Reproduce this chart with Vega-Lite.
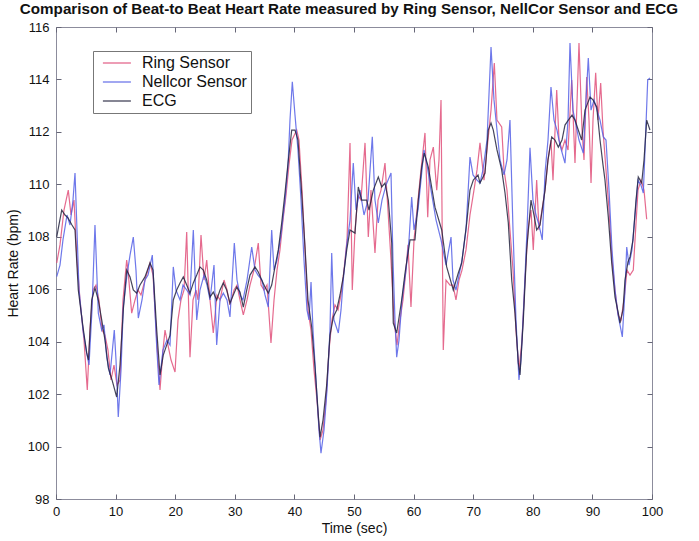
{
  "$schema": "https://vega.github.io/schema/vega-lite/v6.json",
  "width": 596,
  "height": 472,
  "autosize": "none",
  "padding": {"left": 56, "top": 27, "right": 47, "bottom": 42},
  "background": "white",
  "config": {
    "font": "Liberation Sans",
    "view": {"stroke": "#8c8c9c", "strokeWidth": 1},
    "axis": {"grid": false, "domain": false, "tickColor": "#666677", "labelColor": "#111111", "titleColor": "#111111", "labelFontSize": 13, "titleFontSize": 14, "titleFontWeight": "normal", "tickSize": -5, "labelFlush": false, "labelOverlap": false}
  },
  "title": {"text": "Comparison of Beat-to Beat Heart Rate measured by Ring Sensor, NellCor Sensor and ECG", "fontSize": 15.2, "fontWeight": "bold", "color": "#111111", "anchor": "middle", "frame": "group", "offset": 4, "dx": -5},
  "data": {"values": [
    {"series": "Ring Sensor", "t": 0.12, "bpm": 107.00},
    {"series": "Ring Sensor", "t": 0.67, "bpm": 107.69},
    {"series": "Ring Sensor", "t": 1.34, "bpm": 109.02},
    {"series": "Ring Sensor", "t": 2.06, "bpm": 109.78},
    {"series": "Ring Sensor", "t": 2.52, "bpm": 108.83},
    {"series": "Ring Sensor", "t": 3.02, "bpm": 109.40},
    {"series": "Ring Sensor", "t": 3.52, "bpm": 107.11},
    {"series": "Ring Sensor", "t": 4.03, "bpm": 105.59},
    {"series": "Ring Sensor", "t": 4.70, "bpm": 104.06},
    {"series": "Ring Sensor", "t": 5.25, "bpm": 102.16},
    {"series": "Ring Sensor", "t": 5.70, "bpm": 104.44},
    {"series": "Ring Sensor", "t": 6.21, "bpm": 105.97},
    {"series": "Ring Sensor", "t": 6.71, "bpm": 106.16},
    {"series": "Ring Sensor", "t": 7.21, "bpm": 105.59},
    {"series": "Ring Sensor", "t": 7.72, "bpm": 104.44},
    {"series": "Ring Sensor", "t": 8.22, "bpm": 104.25},
    {"series": "Ring Sensor", "t": 8.72, "bpm": 103.68},
    {"series": "Ring Sensor", "t": 9.23, "bpm": 102.54},
    {"series": "Ring Sensor", "t": 9.73, "bpm": 103.11},
    {"series": "Ring Sensor", "t": 10.23, "bpm": 102.35},
    {"series": "Ring Sensor", "t": 10.74, "bpm": 102.54},
    {"series": "Ring Sensor", "t": 11.24, "bpm": 105.59},
    {"series": "Ring Sensor", "t": 11.86, "bpm": 107.11},
    {"series": "Ring Sensor", "t": 12.08, "bpm": 106.73},
    {"series": "Ring Sensor", "t": 12.70, "bpm": 105.09},
    {"series": "Ring Sensor", "t": 13.26, "bpm": 105.59},
    {"series": "Ring Sensor", "t": 13.76, "bpm": 105.97},
    {"series": "Ring Sensor", "t": 14.26, "bpm": 105.78},
    {"series": "Ring Sensor", "t": 14.93, "bpm": 106.35},
    {"series": "Ring Sensor", "t": 15.77, "bpm": 107.00},
    {"series": "Ring Sensor", "t": 16.28, "bpm": 106.54},
    {"series": "Ring Sensor", "t": 16.90, "bpm": 104.06},
    {"series": "Ring Sensor", "t": 17.45, "bpm": 102.16},
    {"series": "Ring Sensor", "t": 17.95, "bpm": 103.68},
    {"series": "Ring Sensor", "t": 18.29, "bpm": 104.44},
    {"series": "Ring Sensor", "t": 18.79, "bpm": 103.87},
    {"series": "Ring Sensor", "t": 19.30, "bpm": 103.30},
    {"series": "Ring Sensor", "t": 19.97, "bpm": 102.84},
    {"series": "Ring Sensor", "t": 20.47, "bpm": 104.83},
    {"series": "Ring Sensor", "t": 20.97, "bpm": 105.59},
    {"series": "Ring Sensor", "t": 21.48, "bpm": 105.97},
    {"series": "Ring Sensor", "t": 21.93, "bpm": 108.18},
    {"series": "Ring Sensor", "t": 22.48, "bpm": 103.41},
    {"series": "Ring Sensor", "t": 22.99, "bpm": 105.59},
    {"series": "Ring Sensor", "t": 23.49, "bpm": 105.97},
    {"series": "Ring Sensor", "t": 23.83, "bpm": 105.59},
    {"series": "Ring Sensor", "t": 24.33, "bpm": 108.07},
    {"series": "Ring Sensor", "t": 24.83, "bpm": 106.35},
    {"series": "Ring Sensor", "t": 25.29, "bpm": 107.11},
    {"series": "Ring Sensor", "t": 25.84, "bpm": 105.59},
    {"series": "Ring Sensor", "t": 26.39, "bpm": 104.33},
    {"series": "Ring Sensor", "t": 27.01, "bpm": 105.78},
    {"series": "Ring Sensor", "t": 27.52, "bpm": 105.59},
    {"series": "Ring Sensor", "t": 28.19, "bpm": 106.35},
    {"series": "Ring Sensor", "t": 28.69, "bpm": 105.97},
    {"series": "Ring Sensor", "t": 29.19, "bpm": 105.40},
    {"series": "Ring Sensor", "t": 29.87, "bpm": 105.97},
    {"series": "Ring Sensor", "t": 30.37, "bpm": 106.16},
    {"series": "Ring Sensor", "t": 30.87, "bpm": 105.59},
    {"series": "Ring Sensor", "t": 31.43, "bpm": 105.02},
    {"series": "Ring Sensor", "t": 32.05, "bpm": 105.59},
    {"series": "Ring Sensor", "t": 32.55, "bpm": 106.16},
    {"series": "Ring Sensor", "t": 33.22, "bpm": 106.73},
    {"series": "Ring Sensor", "t": 33.94, "bpm": 107.76},
    {"series": "Ring Sensor", "t": 34.40, "bpm": 106.16},
    {"series": "Ring Sensor", "t": 34.90, "bpm": 105.97},
    {"series": "Ring Sensor", "t": 35.40, "bpm": 106.16},
    {"series": "Ring Sensor", "t": 36.07, "bpm": 103.95},
    {"series": "Ring Sensor", "t": 36.58, "bpm": 105.59},
    {"series": "Ring Sensor", "t": 37.08, "bpm": 106.73},
    {"series": "Ring Sensor", "t": 37.58, "bpm": 107.50},
    {"series": "Ring Sensor", "t": 38.09, "bpm": 108.64},
    {"series": "Ring Sensor", "t": 38.59, "bpm": 109.59},
    {"series": "Ring Sensor", "t": 39.09, "bpm": 110.74},
    {"series": "Ring Sensor", "t": 39.60, "bpm": 111.69},
    {"series": "Ring Sensor", "t": 40.39, "bpm": 112.07},
    {"series": "Ring Sensor", "t": 40.77, "bpm": 111.69},
    {"series": "Ring Sensor", "t": 41.28, "bpm": 109.78},
    {"series": "Ring Sensor", "t": 41.78, "bpm": 107.50},
    {"series": "Ring Sensor", "t": 42.28, "bpm": 105.21},
    {"series": "Ring Sensor", "t": 42.79, "bpm": 104.44},
    {"series": "Ring Sensor", "t": 43.29, "bpm": 102.92},
    {"series": "Ring Sensor", "t": 43.79, "bpm": 101.77},
    {"series": "Ring Sensor", "t": 44.30, "bpm": 100.25},
    {"series": "Ring Sensor", "t": 44.80, "bpm": 100.63},
    {"series": "Ring Sensor", "t": 45.30, "bpm": 101.77},
    {"series": "Ring Sensor", "t": 45.81, "bpm": 103.68},
    {"series": "Ring Sensor", "t": 46.31, "bpm": 104.83},
    {"series": "Ring Sensor", "t": 46.81, "bpm": 105.40},
    {"series": "Ring Sensor", "t": 47.32, "bpm": 105.21},
    {"series": "Ring Sensor", "t": 47.82, "bpm": 105.78},
    {"series": "Ring Sensor", "t": 48.32, "bpm": 106.73},
    {"series": "Ring Sensor", "t": 48.83, "bpm": 107.88},
    {"series": "Ring Sensor", "t": 49.33, "bpm": 111.58},
    {"series": "Ring Sensor", "t": 49.71, "bpm": 105.97},
    {"series": "Ring Sensor", "t": 50.17, "bpm": 108.26},
    {"series": "Ring Sensor", "t": 50.67, "bpm": 109.59},
    {"series": "Ring Sensor", "t": 51.17, "bpm": 109.40},
    {"series": "Ring Sensor", "t": 51.85, "bpm": 111.58},
    {"series": "Ring Sensor", "t": 52.40, "bpm": 107.99},
    {"series": "Ring Sensor", "t": 52.85, "bpm": 109.78},
    {"series": "Ring Sensor", "t": 53.52, "bpm": 107.38},
    {"series": "Ring Sensor", "t": 54.03, "bpm": 109.40},
    {"series": "Ring Sensor", "t": 54.53, "bpm": 109.78},
    {"series": "Ring Sensor", "t": 55.20, "bpm": 110.81},
    {"series": "Ring Sensor", "t": 55.70, "bpm": 109.02},
    {"series": "Ring Sensor", "t": 56.21, "bpm": 107.11},
    {"series": "Ring Sensor", "t": 56.71, "bpm": 104.83},
    {"series": "Ring Sensor", "t": 57.21, "bpm": 103.87},
    {"series": "Ring Sensor", "t": 57.72, "bpm": 104.83},
    {"series": "Ring Sensor", "t": 58.22, "bpm": 105.59},
    {"series": "Ring Sensor", "t": 58.72, "bpm": 106.73},
    {"series": "Ring Sensor", "t": 59.06, "bpm": 107.69},
    {"series": "Ring Sensor", "t": 59.56, "bpm": 105.32},
    {"series": "Ring Sensor", "t": 60.07, "bpm": 107.88},
    {"series": "Ring Sensor", "t": 60.74, "bpm": 109.40},
    {"series": "Ring Sensor", "t": 61.24, "bpm": 110.55},
    {"series": "Ring Sensor", "t": 61.91, "bpm": 111.96},
    {"series": "Ring Sensor", "t": 62.37, "bpm": 108.75},
    {"series": "Ring Sensor", "t": 62.75, "bpm": 110.93},
    {"series": "Ring Sensor", "t": 63.31, "bpm": 111.42},
    {"series": "Ring Sensor", "t": 63.88, "bpm": 109.78},
    {"series": "Ring Sensor", "t": 64.26, "bpm": 110.93},
    {"series": "Ring Sensor", "t": 64.60, "bpm": 113.22},
    {"series": "Ring Sensor", "t": 64.98, "bpm": 103.68},
    {"series": "Ring Sensor", "t": 65.44, "bpm": 106.35},
    {"series": "Ring Sensor", "t": 66.11, "bpm": 106.16},
    {"series": "Ring Sensor", "t": 66.61, "bpm": 106.16},
    {"series": "Ring Sensor", "t": 67.11, "bpm": 105.59},
    {"series": "Ring Sensor", "t": 67.62, "bpm": 106.35},
    {"series": "Ring Sensor", "t": 68.12, "bpm": 106.73},
    {"series": "Ring Sensor", "t": 68.79, "bpm": 107.50},
    {"series": "Ring Sensor", "t": 69.46, "bpm": 108.83},
    {"series": "Ring Sensor", "t": 70.13, "bpm": 109.78},
    {"series": "Ring Sensor", "t": 70.64, "bpm": 110.55},
    {"series": "Ring Sensor", "t": 71.14, "bpm": 111.58},
    {"series": "Ring Sensor", "t": 71.81, "bpm": 110.16},
    {"series": "Ring Sensor", "t": 72.48, "bpm": 111.69},
    {"series": "Ring Sensor", "t": 72.99, "bpm": 112.83},
    {"series": "Ring Sensor", "t": 73.54, "bpm": 114.63},
    {"series": "Ring Sensor", "t": 73.99, "bpm": 112.45},
    {"series": "Ring Sensor", "t": 74.78, "bpm": 112.19},
    {"series": "Ring Sensor", "t": 75.17, "bpm": 110.55},
    {"series": "Ring Sensor", "t": 75.67, "bpm": 109.78},
    {"series": "Ring Sensor", "t": 76.17, "bpm": 108.26},
    {"series": "Ring Sensor", "t": 76.68, "bpm": 106.73},
    {"series": "Ring Sensor", "t": 77.18, "bpm": 104.44},
    {"series": "Ring Sensor", "t": 77.68, "bpm": 102.92},
    {"series": "Ring Sensor", "t": 78.19, "bpm": 104.06},
    {"series": "Ring Sensor", "t": 78.69, "bpm": 106.35},
    {"series": "Ring Sensor", "t": 79.19, "bpm": 108.26},
    {"series": "Ring Sensor", "t": 79.70, "bpm": 109.02},
    {"series": "Ring Sensor", "t": 80.08, "bpm": 107.50},
    {"series": "Ring Sensor", "t": 80.65, "bpm": 110.16},
    {"series": "Ring Sensor", "t": 81.04, "bpm": 108.26},
    {"series": "Ring Sensor", "t": 81.54, "bpm": 109.02},
    {"series": "Ring Sensor", "t": 82.05, "bpm": 109.78},
    {"series": "Ring Sensor", "t": 82.55, "bpm": 110.93},
    {"series": "Ring Sensor", "t": 83.05, "bpm": 111.69},
    {"series": "Ring Sensor", "t": 83.39, "bpm": 110.16},
    {"series": "Ring Sensor", "t": 84.01, "bpm": 113.60},
    {"series": "Ring Sensor", "t": 84.40, "bpm": 111.69},
    {"series": "Ring Sensor", "t": 84.90, "bpm": 111.31},
    {"series": "Ring Sensor", "t": 85.40, "bpm": 111.69},
    {"series": "Ring Sensor", "t": 85.91, "bpm": 111.31},
    {"series": "Ring Sensor", "t": 86.53, "bpm": 113.98},
    {"series": "Ring Sensor", "t": 87.08, "bpm": 110.81},
    {"series": "Ring Sensor", "t": 87.75, "bpm": 115.39},
    {"series": "Ring Sensor", "t": 88.26, "bpm": 112.07},
    {"series": "Ring Sensor", "t": 88.59, "bpm": 110.93},
    {"series": "Ring Sensor", "t": 89.04, "bpm": 114.09},
    {"series": "Ring Sensor", "t": 89.43, "bpm": 112.45},
    {"series": "Ring Sensor", "t": 89.77, "bpm": 110.05},
    {"series": "Ring Sensor", "t": 90.10, "bpm": 112.45},
    {"series": "Ring Sensor", "t": 90.55, "bpm": 114.25},
    {"series": "Ring Sensor", "t": 90.94, "bpm": 112.45},
    {"series": "Ring Sensor", "t": 91.39, "bpm": 113.86},
    {"series": "Ring Sensor", "t": 91.78, "bpm": 112.07},
    {"series": "Ring Sensor", "t": 92.28, "bpm": 110.55},
    {"series": "Ring Sensor", "t": 92.79, "bpm": 109.02},
    {"series": "Ring Sensor", "t": 93.29, "bpm": 107.11},
    {"series": "Ring Sensor", "t": 93.79, "bpm": 105.97},
    {"series": "Ring Sensor", "t": 94.30, "bpm": 105.02},
    {"series": "Ring Sensor", "t": 94.80, "bpm": 104.83},
    {"series": "Ring Sensor", "t": 95.30, "bpm": 105.59},
    {"series": "Ring Sensor", "t": 95.81, "bpm": 106.73},
    {"series": "Ring Sensor", "t": 96.31, "bpm": 106.54},
    {"series": "Ring Sensor", "t": 96.86, "bpm": 106.73},
    {"series": "Ring Sensor", "t": 97.15, "bpm": 107.88},
    {"series": "Ring Sensor", "t": 97.65, "bpm": 109.78},
    {"series": "Ring Sensor", "t": 98.15, "bpm": 110.16},
    {"series": "Ring Sensor", "t": 98.66, "bpm": 109.78},
    {"series": "Ring Sensor", "t": 99.11, "bpm": 108.67},
    {"series": "Nellcor Sensor", "t": 0.12, "bpm": 106.48},
    {"series": "Nellcor Sensor", "t": 0.67, "bpm": 106.92},
    {"series": "Nellcor Sensor", "t": 1.17, "bpm": 107.88},
    {"series": "Nellcor Sensor", "t": 1.85, "bpm": 108.83},
    {"series": "Nellcor Sensor", "t": 2.35, "bpm": 108.45},
    {"series": "Nellcor Sensor", "t": 2.85, "bpm": 109.40},
    {"series": "Nellcor Sensor", "t": 3.19, "bpm": 110.43},
    {"series": "Nellcor Sensor", "t": 3.52, "bpm": 108.26},
    {"series": "Nellcor Sensor", "t": 3.86, "bpm": 105.97},
    {"series": "Nellcor Sensor", "t": 4.53, "bpm": 104.44},
    {"series": "Nellcor Sensor", "t": 5.15, "bpm": 103.57},
    {"series": "Nellcor Sensor", "t": 5.54, "bpm": 103.11},
    {"series": "Nellcor Sensor", "t": 6.04, "bpm": 105.21},
    {"series": "Nellcor Sensor", "t": 6.54, "bpm": 108.45},
    {"series": "Nellcor Sensor", "t": 7.10, "bpm": 105.09},
    {"series": "Nellcor Sensor", "t": 7.67, "bpm": 104.44},
    {"series": "Nellcor Sensor", "t": 8.05, "bpm": 104.64},
    {"series": "Nellcor Sensor", "t": 8.51, "bpm": 103.41},
    {"series": "Nellcor Sensor", "t": 9.06, "bpm": 102.73},
    {"series": "Nellcor Sensor", "t": 9.78, "bpm": 104.44},
    {"series": "Nellcor Sensor", "t": 10.07, "bpm": 103.30},
    {"series": "Nellcor Sensor", "t": 10.45, "bpm": 101.13},
    {"series": "Nellcor Sensor", "t": 10.91, "bpm": 102.92},
    {"series": "Nellcor Sensor", "t": 11.29, "bpm": 105.32},
    {"series": "Nellcor Sensor", "t": 11.91, "bpm": 106.54},
    {"series": "Nellcor Sensor", "t": 12.42, "bpm": 107.30},
    {"series": "Nellcor Sensor", "t": 12.97, "bpm": 107.99},
    {"series": "Nellcor Sensor", "t": 13.42, "bpm": 106.73},
    {"series": "Nellcor Sensor", "t": 13.81, "bpm": 104.90},
    {"series": "Nellcor Sensor", "t": 14.43, "bpm": 105.59},
    {"series": "Nellcor Sensor", "t": 14.93, "bpm": 106.35},
    {"series": "Nellcor Sensor", "t": 15.44, "bpm": 106.54},
    {"series": "Nellcor Sensor", "t": 16.16, "bpm": 107.30},
    {"series": "Nellcor Sensor", "t": 16.90, "bpm": 103.80},
    {"series": "Nellcor Sensor", "t": 17.28, "bpm": 102.35},
    {"series": "Nellcor Sensor", "t": 17.95, "bpm": 103.68},
    {"series": "Nellcor Sensor", "t": 18.62, "bpm": 104.06},
    {"series": "Nellcor Sensor", "t": 19.13, "bpm": 103.87},
    {"series": "Nellcor Sensor", "t": 19.68, "bpm": 106.85},
    {"series": "Nellcor Sensor", "t": 20.13, "bpm": 105.97},
    {"series": "Nellcor Sensor", "t": 20.81, "bpm": 105.59},
    {"series": "Nellcor Sensor", "t": 21.31, "bpm": 106.16},
    {"series": "Nellcor Sensor", "t": 21.93, "bpm": 105.97},
    {"series": "Nellcor Sensor", "t": 22.48, "bpm": 105.78},
    {"series": "Nellcor Sensor", "t": 23.04, "bpm": 108.26},
    {"series": "Nellcor Sensor", "t": 23.61, "bpm": 104.83},
    {"series": "Nellcor Sensor", "t": 24.16, "bpm": 105.97},
    {"series": "Nellcor Sensor", "t": 24.83, "bpm": 106.54},
    {"series": "Nellcor Sensor", "t": 25.34, "bpm": 106.16},
    {"series": "Nellcor Sensor", "t": 25.84, "bpm": 105.59},
    {"series": "Nellcor Sensor", "t": 26.51, "bpm": 106.92},
    {"series": "Nellcor Sensor", "t": 26.96, "bpm": 103.87},
    {"series": "Nellcor Sensor", "t": 27.52, "bpm": 105.59},
    {"series": "Nellcor Sensor", "t": 28.07, "bpm": 105.85},
    {"series": "Nellcor Sensor", "t": 28.69, "bpm": 105.59},
    {"series": "Nellcor Sensor", "t": 29.19, "bpm": 104.94},
    {"series": "Nellcor Sensor", "t": 29.92, "bpm": 107.76},
    {"series": "Nellcor Sensor", "t": 30.37, "bpm": 106.35},
    {"series": "Nellcor Sensor", "t": 30.87, "bpm": 105.78},
    {"series": "Nellcor Sensor", "t": 31.38, "bpm": 105.59},
    {"series": "Nellcor Sensor", "t": 32.05, "bpm": 106.35},
    {"series": "Nellcor Sensor", "t": 32.84, "bpm": 107.61},
    {"series": "Nellcor Sensor", "t": 33.39, "bpm": 106.73},
    {"series": "Nellcor Sensor", "t": 33.89, "bpm": 106.54},
    {"series": "Nellcor Sensor", "t": 34.56, "bpm": 106.35},
    {"series": "Nellcor Sensor", "t": 35.07, "bpm": 105.78},
    {"series": "Nellcor Sensor", "t": 35.62, "bpm": 105.32},
    {"series": "Nellcor Sensor", "t": 36.19, "bpm": 108.26},
    {"series": "Nellcor Sensor", "t": 36.58, "bpm": 106.73},
    {"series": "Nellcor Sensor", "t": 37.08, "bpm": 107.11},
    {"series": "Nellcor Sensor", "t": 37.75, "bpm": 108.07},
    {"series": "Nellcor Sensor", "t": 38.42, "bpm": 109.40},
    {"series": "Nellcor Sensor", "t": 38.93, "bpm": 110.74},
    {"series": "Nellcor Sensor", "t": 39.26, "bpm": 112.45},
    {"series": "Nellcor Sensor", "t": 39.65, "bpm": 113.91},
    {"series": "Nellcor Sensor", "t": 40.10, "bpm": 112.64},
    {"series": "Nellcor Sensor", "t": 40.60, "bpm": 111.31},
    {"series": "Nellcor Sensor", "t": 41.11, "bpm": 109.40},
    {"series": "Nellcor Sensor", "t": 41.61, "bpm": 107.11},
    {"series": "Nellcor Sensor", "t": 42.11, "bpm": 105.21},
    {"series": "Nellcor Sensor", "t": 42.45, "bpm": 104.83},
    {"series": "Nellcor Sensor", "t": 42.79, "bpm": 106.27},
    {"series": "Nellcor Sensor", "t": 43.12, "bpm": 104.44},
    {"series": "Nellcor Sensor", "t": 43.62, "bpm": 102.54},
    {"series": "Nellcor Sensor", "t": 44.13, "bpm": 100.63},
    {"series": "Nellcor Sensor", "t": 44.46, "bpm": 99.75},
    {"series": "Nellcor Sensor", "t": 44.97, "bpm": 100.63},
    {"series": "Nellcor Sensor", "t": 45.47, "bpm": 102.16},
    {"series": "Nellcor Sensor", "t": 45.97, "bpm": 104.44},
    {"series": "Nellcor Sensor", "t": 46.26, "bpm": 107.38},
    {"series": "Nellcor Sensor", "t": 46.64, "bpm": 104.83},
    {"series": "Nellcor Sensor", "t": 47.37, "bpm": 104.33},
    {"series": "Nellcor Sensor", "t": 47.82, "bpm": 105.21},
    {"series": "Nellcor Sensor", "t": 48.20, "bpm": 106.35},
    {"series": "Nellcor Sensor", "t": 48.78, "bpm": 107.69},
    {"series": "Nellcor Sensor", "t": 49.33, "bpm": 108.64},
    {"series": "Nellcor Sensor", "t": 49.88, "bpm": 110.81},
    {"series": "Nellcor Sensor", "t": 50.34, "bpm": 109.02},
    {"series": "Nellcor Sensor", "t": 51.01, "bpm": 109.78},
    {"series": "Nellcor Sensor", "t": 51.68, "bpm": 108.83},
    {"series": "Nellcor Sensor", "t": 52.35, "bpm": 109.40},
    {"series": "Nellcor Sensor", "t": 53.07, "bpm": 111.81},
    {"series": "Nellcor Sensor", "t": 53.52, "bpm": 109.40},
    {"series": "Nellcor Sensor", "t": 54.08, "bpm": 108.53},
    {"series": "Nellcor Sensor", "t": 54.70, "bpm": 109.40},
    {"series": "Nellcor Sensor", "t": 55.37, "bpm": 109.97},
    {"series": "Nellcor Sensor", "t": 56.21, "bpm": 110.43},
    {"series": "Nellcor Sensor", "t": 56.54, "bpm": 107.11},
    {"series": "Nellcor Sensor", "t": 56.88, "bpm": 104.83},
    {"series": "Nellcor Sensor", "t": 57.16, "bpm": 103.41},
    {"series": "Nellcor Sensor", "t": 57.55, "bpm": 104.06},
    {"series": "Nellcor Sensor", "t": 58.05, "bpm": 105.59},
    {"series": "Nellcor Sensor", "t": 58.72, "bpm": 106.73},
    {"series": "Nellcor Sensor", "t": 59.23, "bpm": 107.88},
    {"series": "Nellcor Sensor", "t": 59.68, "bpm": 109.52},
    {"series": "Nellcor Sensor", "t": 60.07, "bpm": 108.26},
    {"series": "Nellcor Sensor", "t": 60.74, "bpm": 109.02},
    {"series": "Nellcor Sensor", "t": 61.24, "bpm": 110.16},
    {"series": "Nellcor Sensor", "t": 61.74, "bpm": 111.31},
    {"series": "Nellcor Sensor", "t": 62.25, "bpm": 110.74},
    {"series": "Nellcor Sensor", "t": 62.92, "bpm": 109.78},
    {"series": "Nellcor Sensor", "t": 63.76, "bpm": 108.64},
    {"series": "Nellcor Sensor", "t": 64.60, "bpm": 107.88},
    {"series": "Nellcor Sensor", "t": 65.44, "bpm": 106.92},
    {"series": "Nellcor Sensor", "t": 66.28, "bpm": 107.99},
    {"series": "Nellcor Sensor", "t": 66.61, "bpm": 106.35},
    {"series": "Nellcor Sensor", "t": 67.11, "bpm": 105.97},
    {"series": "Nellcor Sensor", "t": 67.62, "bpm": 106.54},
    {"series": "Nellcor Sensor", "t": 68.12, "bpm": 107.11},
    {"series": "Nellcor Sensor", "t": 68.79, "bpm": 108.26},
    {"series": "Nellcor Sensor", "t": 69.46, "bpm": 111.04},
    {"series": "Nellcor Sensor", "t": 69.97, "bpm": 110.36},
    {"series": "Nellcor Sensor", "t": 70.64, "bpm": 110.16},
    {"series": "Nellcor Sensor", "t": 71.14, "bpm": 110.05},
    {"series": "Nellcor Sensor", "t": 71.64, "bpm": 110.55},
    {"series": "Nellcor Sensor", "t": 72.32, "bpm": 111.69},
    {"series": "Nellcor Sensor", "t": 72.99, "bpm": 115.24},
    {"series": "Nellcor Sensor", "t": 73.49, "bpm": 113.22},
    {"series": "Nellcor Sensor", "t": 73.99, "bpm": 112.07},
    {"series": "Nellcor Sensor", "t": 74.50, "bpm": 110.93},
    {"series": "Nellcor Sensor", "t": 75.17, "bpm": 110.36},
    {"series": "Nellcor Sensor", "t": 75.67, "bpm": 110.93},
    {"series": "Nellcor Sensor", "t": 76.17, "bpm": 112.45},
    {"series": "Nellcor Sensor", "t": 76.68, "bpm": 108.26},
    {"series": "Nellcor Sensor", "t": 77.18, "bpm": 104.83},
    {"series": "Nellcor Sensor", "t": 77.68, "bpm": 102.54},
    {"series": "Nellcor Sensor", "t": 78.02, "bpm": 103.30},
    {"series": "Nellcor Sensor", "t": 78.52, "bpm": 105.59},
    {"series": "Nellcor Sensor", "t": 79.03, "bpm": 108.26},
    {"series": "Nellcor Sensor", "t": 79.53, "bpm": 111.39},
    {"series": "Nellcor Sensor", "t": 80.03, "bpm": 109.40},
    {"series": "Nellcor Sensor", "t": 80.54, "bpm": 108.83},
    {"series": "Nellcor Sensor", "t": 81.04, "bpm": 108.45},
    {"series": "Nellcor Sensor", "t": 81.59, "bpm": 107.88},
    {"series": "Nellcor Sensor", "t": 82.05, "bpm": 110.43},
    {"series": "Nellcor Sensor", "t": 82.55, "bpm": 111.69},
    {"series": "Nellcor Sensor", "t": 83.05, "bpm": 113.71},
    {"series": "Nellcor Sensor", "t": 83.56, "bpm": 112.45},
    {"series": "Nellcor Sensor", "t": 84.06, "bpm": 112.07},
    {"series": "Nellcor Sensor", "t": 84.56, "bpm": 111.50},
    {"series": "Nellcor Sensor", "t": 85.40, "bpm": 110.81},
    {"series": "Nellcor Sensor", "t": 85.91, "bpm": 112.45},
    {"series": "Nellcor Sensor", "t": 86.24, "bpm": 115.39},
    {"series": "Nellcor Sensor", "t": 86.74, "bpm": 112.83},
    {"series": "Nellcor Sensor", "t": 87.25, "bpm": 112.26},
    {"series": "Nellcor Sensor", "t": 87.75, "bpm": 111.69},
    {"series": "Nellcor Sensor", "t": 88.47, "bpm": 111.19},
    {"series": "Nellcor Sensor", "t": 88.93, "bpm": 113.22},
    {"series": "Nellcor Sensor", "t": 89.31, "bpm": 114.82},
    {"series": "Nellcor Sensor", "t": 89.77, "bpm": 112.83},
    {"series": "Nellcor Sensor", "t": 90.27, "bpm": 113.22},
    {"series": "Nellcor Sensor", "t": 90.77, "bpm": 112.83},
    {"series": "Nellcor Sensor", "t": 91.28, "bpm": 112.45},
    {"series": "Nellcor Sensor", "t": 91.83, "bpm": 111.81},
    {"series": "Nellcor Sensor", "t": 92.28, "bpm": 111.69},
    {"series": "Nellcor Sensor", "t": 92.79, "bpm": 109.78},
    {"series": "Nellcor Sensor", "t": 93.29, "bpm": 107.50},
    {"series": "Nellcor Sensor", "t": 93.79, "bpm": 105.97},
    {"series": "Nellcor Sensor", "t": 94.30, "bpm": 105.02},
    {"series": "Nellcor Sensor", "t": 94.63, "bpm": 104.64},
    {"series": "Nellcor Sensor", "t": 95.02, "bpm": 104.18},
    {"series": "Nellcor Sensor", "t": 95.47, "bpm": 105.97},
    {"series": "Nellcor Sensor", "t": 95.76, "bpm": 107.61},
    {"series": "Nellcor Sensor", "t": 96.14, "bpm": 106.92},
    {"series": "Nellcor Sensor", "t": 96.64, "bpm": 107.50},
    {"series": "Nellcor Sensor", "t": 97.15, "bpm": 108.83},
    {"series": "Nellcor Sensor", "t": 97.65, "bpm": 110.16},
    {"series": "Nellcor Sensor", "t": 98.15, "bpm": 109.97},
    {"series": "Nellcor Sensor", "t": 98.54, "bpm": 109.67},
    {"series": "Nellcor Sensor", "t": 98.83, "bpm": 111.31},
    {"series": "Nellcor Sensor", "t": 99.28, "bpm": 113.98},
    {"series": "Nellcor Sensor", "t": 99.66, "bpm": 114.06},
    {"series": "ECG", "t": 0.12, "bpm": 108.00},
    {"series": "ECG", "t": 0.96, "bpm": 109.02},
    {"series": "ECG", "t": 1.51, "bpm": 108.83},
    {"series": "ECG", "t": 2.01, "bpm": 108.72},
    {"series": "ECG", "t": 2.68, "bpm": 108.45},
    {"series": "ECG", "t": 3.19, "bpm": 108.26},
    {"series": "ECG", "t": 3.74, "bpm": 105.97},
    {"series": "ECG", "t": 4.53, "bpm": 104.56},
    {"series": "ECG", "t": 5.15, "bpm": 103.57},
    {"series": "ECG", "t": 5.45, "bpm": 103.30},
    {"series": "ECG", "t": 5.99, "bpm": 105.59},
    {"series": "ECG", "t": 6.54, "bpm": 106.05},
    {"series": "ECG", "t": 7.10, "bpm": 105.59},
    {"series": "ECG", "t": 7.67, "bpm": 104.83},
    {"series": "ECG", "t": 8.22, "bpm": 104.06},
    {"series": "ECG", "t": 8.78, "bpm": 103.00},
    {"series": "ECG", "t": 9.40, "bpm": 102.54},
    {"series": "ECG", "t": 10.18, "bpm": 101.89},
    {"series": "ECG", "t": 10.74, "bpm": 103.11},
    {"series": "ECG", "t": 11.29, "bpm": 105.21},
    {"series": "ECG", "t": 11.86, "bpm": 106.73},
    {"series": "ECG", "t": 12.42, "bpm": 106.47},
    {"series": "ECG", "t": 12.97, "bpm": 105.97},
    {"series": "ECG", "t": 13.54, "bpm": 105.85},
    {"series": "ECG", "t": 14.09, "bpm": 106.16},
    {"series": "ECG", "t": 14.93, "bpm": 106.47},
    {"series": "ECG", "t": 15.77, "bpm": 107.00},
    {"series": "ECG", "t": 16.28, "bpm": 106.73},
    {"series": "ECG", "t": 16.90, "bpm": 104.44},
    {"series": "ECG", "t": 17.45, "bpm": 102.73},
    {"series": "ECG", "t": 18.00, "bpm": 103.49},
    {"series": "ECG", "t": 18.57, "bpm": 103.87},
    {"series": "ECG", "t": 19.13, "bpm": 104.25},
    {"series": "ECG", "t": 19.68, "bpm": 105.59},
    {"series": "ECG", "t": 20.25, "bpm": 105.97},
    {"series": "ECG", "t": 20.81, "bpm": 106.24},
    {"series": "ECG", "t": 21.36, "bpm": 106.47},
    {"series": "ECG", "t": 21.93, "bpm": 106.16},
    {"series": "ECG", "t": 22.48, "bpm": 105.85},
    {"series": "ECG", "t": 23.04, "bpm": 106.24},
    {"series": "ECG", "t": 23.61, "bpm": 106.54},
    {"series": "ECG", "t": 24.16, "bpm": 106.85},
    {"series": "ECG", "t": 24.72, "bpm": 106.73},
    {"series": "ECG", "t": 25.29, "bpm": 106.35},
    {"series": "ECG", "t": 25.84, "bpm": 105.70},
    {"series": "ECG", "t": 26.39, "bpm": 105.89},
    {"series": "ECG", "t": 26.96, "bpm": 105.59},
    {"series": "ECG", "t": 27.52, "bpm": 105.97},
    {"series": "ECG", "t": 28.07, "bpm": 106.24},
    {"series": "ECG", "t": 28.64, "bpm": 105.97},
    {"series": "ECG", "t": 29.19, "bpm": 105.47},
    {"series": "ECG", "t": 29.75, "bpm": 105.78},
    {"series": "ECG", "t": 30.32, "bpm": 106.08},
    {"series": "ECG", "t": 30.87, "bpm": 105.89},
    {"series": "ECG", "t": 31.43, "bpm": 105.32},
    {"series": "ECG", "t": 32.00, "bpm": 105.97},
    {"series": "ECG", "t": 32.55, "bpm": 106.54},
    {"series": "ECG", "t": 33.39, "bpm": 106.85},
    {"series": "ECG", "t": 33.94, "bpm": 106.66},
    {"series": "ECG", "t": 34.51, "bpm": 106.35},
    {"series": "ECG", "t": 35.07, "bpm": 106.08},
    {"series": "ECG", "t": 35.62, "bpm": 105.85},
    {"series": "ECG", "t": 36.19, "bpm": 106.16},
    {"series": "ECG", "t": 36.74, "bpm": 106.85},
    {"series": "ECG", "t": 37.30, "bpm": 107.50},
    {"series": "ECG", "t": 37.87, "bpm": 108.53},
    {"series": "ECG", "t": 38.42, "bpm": 109.67},
    {"series": "ECG", "t": 38.93, "bpm": 110.81},
    {"series": "ECG", "t": 39.55, "bpm": 112.07},
    {"series": "ECG", "t": 40.10, "bpm": 112.07},
    {"series": "ECG", "t": 40.60, "bpm": 111.69},
    {"series": "ECG", "t": 41.22, "bpm": 109.67},
    {"series": "ECG", "t": 41.78, "bpm": 107.61},
    {"series": "ECG", "t": 42.28, "bpm": 105.59},
    {"series": "ECG", "t": 42.90, "bpm": 104.56},
    {"series": "ECG", "t": 43.46, "bpm": 103.03},
    {"series": "ECG", "t": 44.01, "bpm": 101.20},
    {"series": "ECG", "t": 44.30, "bpm": 100.36},
    {"series": "ECG", "t": 44.80, "bpm": 101.01},
    {"series": "ECG", "t": 45.42, "bpm": 102.35},
    {"series": "ECG", "t": 45.97, "bpm": 104.25},
    {"series": "ECG", "t": 46.53, "bpm": 104.94},
    {"series": "ECG", "t": 47.10, "bpm": 105.21},
    {"series": "ECG", "t": 47.65, "bpm": 105.78},
    {"series": "ECG", "t": 48.20, "bpm": 106.47},
    {"series": "ECG", "t": 48.78, "bpm": 107.50},
    {"series": "ECG", "t": 49.33, "bpm": 108.26},
    {"series": "ECG", "t": 50.17, "bpm": 108.14},
    {"series": "ECG", "t": 50.72, "bpm": 109.90},
    {"series": "ECG", "t": 51.29, "bpm": 109.40},
    {"series": "ECG", "t": 52.13, "bpm": 109.40},
    {"series": "ECG", "t": 52.52, "bpm": 109.02},
    {"series": "ECG", "t": 53.24, "bpm": 109.78},
    {"series": "ECG", "t": 54.08, "bpm": 110.28},
    {"series": "ECG", "t": 54.65, "bpm": 109.90},
    {"series": "ECG", "t": 55.20, "bpm": 110.05},
    {"series": "ECG", "t": 55.76, "bpm": 109.40},
    {"series": "ECG", "t": 56.33, "bpm": 107.76},
    {"series": "ECG", "t": 56.59, "bpm": 104.71},
    {"series": "ECG", "t": 57.16, "bpm": 104.33},
    {"series": "ECG", "t": 58.00, "bpm": 105.59},
    {"series": "ECG", "t": 58.56, "bpm": 106.62},
    {"series": "ECG", "t": 59.40, "bpm": 107.88},
    {"series": "ECG", "t": 60.23, "bpm": 107.88},
    {"series": "ECG", "t": 60.79, "bpm": 109.40},
    {"series": "ECG", "t": 61.36, "bpm": 110.66},
    {"series": "ECG", "t": 61.79, "bpm": 111.19},
    {"series": "ECG", "t": 62.47, "bpm": 110.66},
    {"series": "ECG", "t": 63.59, "bpm": 109.13},
    {"series": "ECG", "t": 64.72, "bpm": 108.26},
    {"series": "ECG", "t": 65.55, "bpm": 106.85},
    {"series": "ECG", "t": 66.66, "bpm": 105.97},
    {"series": "ECG", "t": 67.50, "bpm": 106.62},
    {"series": "ECG", "t": 68.07, "bpm": 107.00},
    {"series": "ECG", "t": 68.91, "bpm": 108.53},
    {"series": "ECG", "t": 69.46, "bpm": 109.78},
    {"series": "ECG", "t": 70.02, "bpm": 110.16},
    {"series": "ECG", "t": 70.81, "bpm": 110.36},
    {"series": "ECG", "t": 71.14, "bpm": 110.05},
    {"series": "ECG", "t": 71.98, "bpm": 110.43},
    {"series": "ECG", "t": 72.53, "bpm": 112.07},
    {"series": "ECG", "t": 72.99, "bpm": 112.34},
    {"series": "ECG", "t": 73.37, "bpm": 112.07},
    {"series": "ECG", "t": 73.99, "bpm": 111.31},
    {"series": "ECG", "t": 74.78, "bpm": 110.55},
    {"series": "ECG", "t": 75.34, "bpm": 109.67},
    {"series": "ECG", "t": 75.89, "bpm": 108.53},
    {"series": "ECG", "t": 76.46, "bpm": 106.35},
    {"series": "ECG", "t": 77.01, "bpm": 105.09},
    {"series": "ECG", "t": 77.57, "bpm": 103.19},
    {"series": "ECG", "t": 77.85, "bpm": 102.73},
    {"series": "ECG", "t": 78.41, "bpm": 104.83},
    {"series": "ECG", "t": 78.97, "bpm": 107.50},
    {"series": "ECG", "t": 79.70, "bpm": 109.40},
    {"series": "ECG", "t": 80.20, "bpm": 108.83},
    {"series": "ECG", "t": 80.65, "bpm": 108.26},
    {"series": "ECG", "t": 81.21, "bpm": 108.45},
    {"series": "ECG", "t": 82.05, "bpm": 109.78},
    {"series": "ECG", "t": 82.55, "bpm": 110.93},
    {"series": "ECG", "t": 83.17, "bpm": 111.81},
    {"series": "ECG", "t": 83.72, "bpm": 111.69},
    {"series": "ECG", "t": 84.28, "bpm": 111.42},
    {"series": "ECG", "t": 84.90, "bpm": 111.69},
    {"series": "ECG", "t": 85.40, "bpm": 112.26},
    {"series": "ECG", "t": 85.96, "bpm": 112.45},
    {"series": "ECG", "t": 86.58, "bpm": 112.64},
    {"series": "ECG", "t": 87.08, "bpm": 112.45},
    {"series": "ECG", "t": 87.63, "bpm": 112.07},
    {"series": "ECG", "t": 88.20, "bpm": 111.69},
    {"series": "ECG", "t": 88.76, "bpm": 112.83},
    {"series": "ECG", "t": 89.60, "bpm": 113.33},
    {"series": "ECG", "t": 90.10, "bpm": 113.22},
    {"series": "ECG", "t": 90.72, "bpm": 112.95},
    {"series": "ECG", "t": 91.28, "bpm": 111.69},
    {"series": "ECG", "t": 91.78, "bpm": 110.74},
    {"series": "ECG", "t": 92.11, "bpm": 110.16},
    {"series": "ECG", "t": 92.67, "bpm": 108.75},
    {"series": "ECG", "t": 93.24, "bpm": 107.00},
    {"series": "ECG", "t": 93.79, "bpm": 105.70},
    {"series": "ECG", "t": 94.35, "bpm": 105.09},
    {"series": "ECG", "t": 94.63, "bpm": 104.71},
    {"series": "ECG", "t": 95.13, "bpm": 105.21},
    {"series": "ECG", "t": 95.47, "bpm": 106.35},
    {"series": "ECG", "t": 95.97, "bpm": 107.04},
    {"series": "ECG", "t": 96.31, "bpm": 107.23},
    {"series": "ECG", "t": 96.81, "bpm": 107.88},
    {"series": "ECG", "t": 97.32, "bpm": 109.40},
    {"series": "ECG", "t": 97.70, "bpm": 110.28},
    {"series": "ECG", "t": 98.27, "bpm": 110.05},
    {"series": "ECG", "t": 98.66, "bpm": 110.93},
    {"series": "ECG", "t": 99.11, "bpm": 112.45},
    {"series": "ECG", "t": 99.66, "bpm": 112.07}
  ]},
  "layer": [
    {
      "mark": {"type": "line", "strokeWidth": 1.2, "opacity": 0.85},
      "encoding": {
        "x": {"field": "t", "type": "quantitative", "scale": {"domain": [0, 100], "nice": false, "zero": false},
              "axis": {"orient": "bottom", "values": [0, 10, 20, 30, 40, 50, 60, 70, 80, 90, 100], "title": "Time (sec)", "labelPadding": 11, "titlePadding": 3}},
        "y": {"field": "bpm", "type": "quantitative", "scale": {"domain": [98, 116], "nice": false, "zero": false},
              "axis": {"orient": "left", "values": [98, 100, 102, 104, 106, 108, 110, 112, 114, 116], "title": "Heart Rate (bpm)", "labelPadding": 12, "titlePadding": 7}},
        "color": {"field": "series", "type": "nominal", "sort": null,
                  "scale": {"domain": ["Ring Sensor", "Nellcor Sensor", "ECG"], "range": ["#e0507a", "#5560e6", "#25253f"]},
                  "legend": {"orient": "none", "legendX": 37, "legendY": 24, "title": null, "symbolType": "M-0.3,0H3.7", "symbolSize": 196, "symbolStrokeWidth": 1.3, "labelFontSize": 16, "labelColor": "#111111", "labelOffset": 29, "rowPadding": 3, "padding": 4, "strokeColor": "#777777", "fillColor": "white", "labelExpr": "datum.label + '      '"}}
      }
    },
    {
      "mark": {"type": "line", "opacity": 0},
      "encoding": {
        "x": {"field": "t", "type": "quantitative", "scale": {"domain": [0, 100], "nice": false, "zero": false},
              "axis": {"orient": "top", "values": [0, 10, 20, 30, 40, 50, 60, 70, 80, 90, 100], "labels": false, "title": null}},
        "y": {"field": "bpm", "type": "quantitative", "scale": {"domain": [98, 116], "nice": false, "zero": false},
              "axis": {"orient": "right", "values": [98, 100, 102, 104, 106, 108, 110, 112, 114, 116], "labels": false, "title": null}},
        "detail": {"field": "series"}
      }
    }
  ],
  "resolve": {"axis": {"x": "independent", "y": "independent"}}
}
